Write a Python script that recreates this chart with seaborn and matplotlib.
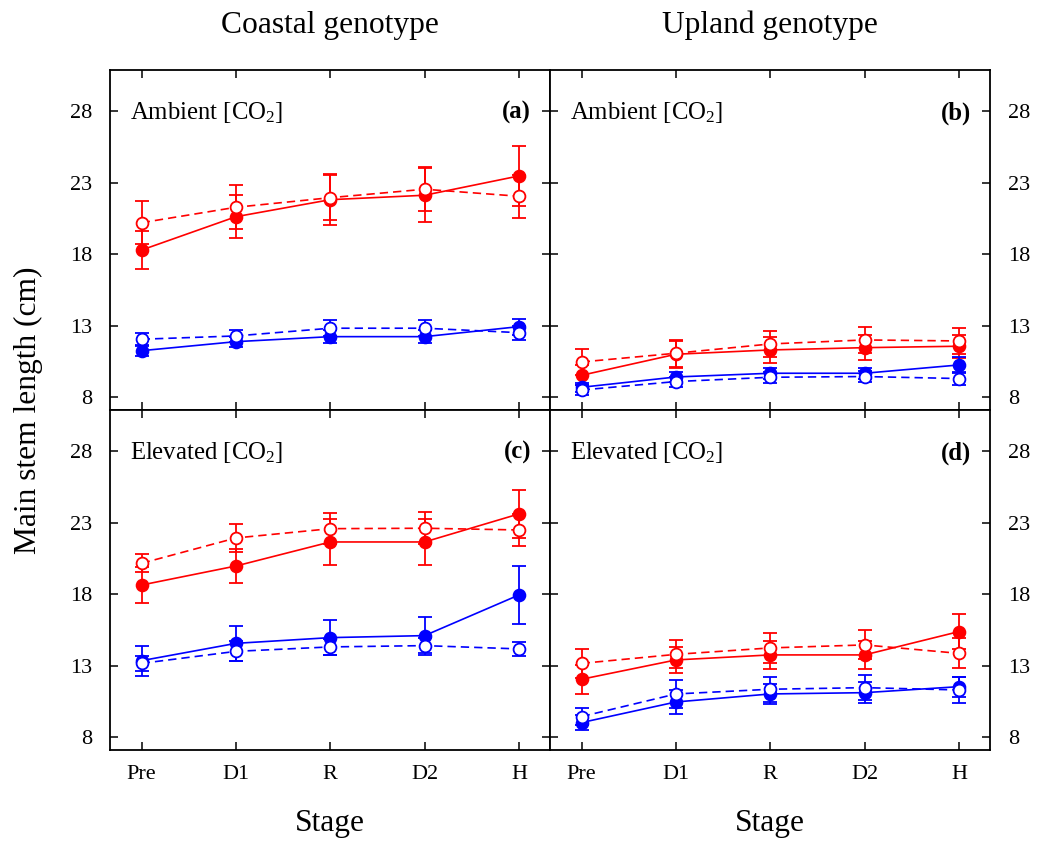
import numpy as np
import pandas as pd
import matplotlib
matplotlib.use("Agg")
import matplotlib.pyplot as plt
import seaborn as sns

stages = ["Pre", "D1", "R", "D2", "H"]
yticks = [8, 13, 18, 23, 28]

# panel (a) Coastal, ambient
a_red_solid = [18.30, 20.63, 21.82, 22.13, 23.48]
a_red_solid_err = [1.35, 1.52, 1.80, 1.89, 2.10]
a_red_dash = [20.21, 21.29, 21.96, 22.55, 22.06]
a_red_dash_err = [1.52, 1.54, 1.58, 1.53, 1.49]
a_blue_solid = [11.26, 11.89, 12.24, 12.24, 12.94]
a_blue_solid_err = [0.35, 0.35, 0.47, 0.47, 0.56]
a_blue_dash = [12.06, 12.29, 12.83, 12.83, 12.52]
a_blue_dash_err = [0.42, 0.44, 0.54, 0.54, 0.50]

# panel (b) Upland, ambient
b_red_solid = [9.54, 11.01, 11.31, 11.47, 11.57]
b_red_solid_err = [0.70, 0.93, 0.93, 0.87, 0.80]
b_red_dash = [10.47, 11.08, 11.73, 12.01, 11.94]
b_red_dash_err = [0.93, 0.93, 0.93, 0.90, 0.93]
b_blue_solid = [8.70, 9.42, 9.68, 9.68, 10.26]
b_blue_solid_err = [0.33, 0.35, 0.37, 0.37, 0.58]
b_blue_dash = [8.51, 9.10, 9.40, 9.45, 9.31]
b_blue_dash_err = [0.33, 0.35, 0.37, 0.37, 0.47]

# panel (c) Coastal, elevated
c_red_solid = [18.65, 19.98, 21.66, 21.66, 23.62]
c_red_solid_err = [1.24, 1.22, 1.61, 1.61, 1.68]
c_red_dash = [20.17, 21.94, 22.59, 22.62, 22.50]
c_red_dash_err = [0.63, 1.00, 1.07, 1.12, 1.12]
c_blue_solid = [13.36, 14.57, 14.97, 15.11, 17.95]
c_blue_solid_err = [1.05, 1.24, 1.24, 1.33, 2.00]
c_blue_dash = [13.17, 14.01, 14.32, 14.41, 14.18]
c_blue_dash_err = [0.51, 0.70, 0.56, 0.54, 0.50]

# panel (d) Upland, elevated
d_red_solid = [12.06, 13.41, 13.76, 13.76, 15.39]
d_red_solid_err = [1.00, 0.93, 0.98, 1.00, 1.24]
d_red_dash = [13.17, 13.80, 14.25, 14.46, 13.87]
d_red_dash_err = [1.03, 0.97, 1.05, 1.02, 1.05]
d_blue_solid = [9.03, 10.47, 11.03, 11.12, 11.54]
d_blue_solid_err = [0.54, 0.84, 0.70, 0.72, 0.70]
d_blue_dash = [9.45, 11.03, 11.36, 11.47, 11.31]
d_blue_dash_err = [0.60, 0.97, 0.87, 0.87, 0.93]

panels = {
    "a": [(a_red_solid, a_red_solid_err, "red", True), (a_red_dash, a_red_dash_err, "red", False),
          (a_blue_solid, a_blue_solid_err, "blue", True), (a_blue_dash, a_blue_dash_err, "blue", False)],
    "b": [(b_red_solid, b_red_solid_err, "red", True), (b_red_dash, b_red_dash_err, "red", False),
          (b_blue_solid, b_blue_solid_err, "blue", True), (b_blue_dash, b_blue_dash_err, "blue", False)],
    "c": [(c_red_solid, c_red_solid_err, "red", True), (c_red_dash, c_red_dash_err, "red", False),
          (c_blue_solid, c_blue_solid_err, "blue", True), (c_blue_dash, c_blue_dash_err, "blue", False)],
    "d": [(d_red_solid, d_red_solid_err, "red", True), (d_red_dash, d_red_dash_err, "red", False),
          (d_blue_solid, d_blue_solid_err, "blue", True), (d_blue_dash, d_blue_dash_err, "blue", False)],
}
cond_labels = {"a": "Ambient [CO$_2$]", "b": "Ambient [CO$_2$]",
               "c": "Elevated [CO$_2$]", "d": "Elevated [CO$_2$]"}

sns.set_theme(style="ticks")
plt.rcParams["font.family"] = ["Liberation Serif", "DejaVu Serif"]
plt.rcParams["mathtext.fontset"] = "custom"
plt.rcParams["mathtext.rm"] = "Liberation Serif"
plt.rcParams["mathtext.it"] = "Liberation Serif"
plt.rcParams["mathtext.bf"] = "Liberation Serif:bold"
plt.rcParams["text.color"] = "black"
plt.rcParams["axes.labelcolor"] = "black"
plt.rcParams["xtick.color"] = "black"
plt.rcParams["ytick.color"] = "black"

fig = plt.figure(figsize=(10.37, 8.41), dpi=100)
W, H = 1037, 841
def add_ax(x0, y0, x1, y1):
    return fig.add_axes([x0 / W, 1 - y1 / H, (x1 - x0) / W, (y1 - y0) / H])

axes = {
    "a": add_ax(110, 70, 550, 410),
    "b": add_ax(550, 70, 990, 410),
    "c": add_ax(110, 410, 550, 750),
    "d": add_ax(550, 410, 990, 750),
}

xpos = np.arange(len(stages))
for key, ax in axes.items():
    for vals, errs, col, solid in panels[key]:
        df = pd.DataFrame({"x": xpos, "y": vals})
        ax.errorbar(xpos, vals, yerr=errs, fmt="none", ecolor=col, elinewidth=1.3,
                    capsize=5, capthick=1.3, zorder=2)
        sns.lineplot(data=df, x="x", y="y", ax=ax, color=col, lw=1.2,
                     linestyle="-" if solid else (0, (5, 3)),
                     marker="o", markersize=8.5,
                     markerfacecolor=col if solid else "white",
                     markeredgecolor=col, markeredgewidth=1.3, zorder=3)
    ax.set_xlim(-0.336, 4.33)
    ax.set_ylim(7.11, 30.89)
    ax.set_xticks(xpos)
    ax.set_yticks(yticks)
    ax.set_xlabel("")
    ax.set_ylabel("")
    for s in ax.spines.values():
        s.set_linewidth(1.3)
        s.set_color("black")
    right = key in ("b", "d")
    bottom = key in ("c", "d")
    ax.tick_params(axis="both", direction="in", length=6, width=1.1, colors="black",
                   top=True, bottom=True, left=True, right=True, labelsize=16)
    ax.tick_params(axis="y", pad=13, labelleft=not right, labelright=right)
    ax.tick_params(axis="x", pad=11, labelbottom=bottom)
    ax.set_xticklabels(stages)
    ax.text(0.045, 0.874, cond_labels[key], transform=ax.transAxes, fontsize=17.8,
            ha="left", va="center")
    ax.text(0.957, 0.874, f"({key})", transform=ax.transAxes, fontsize=17.8,
            fontweight="bold", ha="right", va="center")
    ax.grid(False)

fig.text(330 / W, 1 - 25 / H, "Coastal genotype", fontsize=22.7, ha="center", va="center")
fig.text(770 / W, 1 - 25 / H, "Upland genotype", fontsize=22.7, ha="center", va="center")
fig.text(330 / W, 1 - 824 / H, "Stage", fontsize=22.7, ha="center", va="center")
fig.text(770 / W, 1 - 824 / H, "Stage", fontsize=22.7, ha="center", va="center")
fig.text(28 / W, 1 - 410 / H, "Main stem length (cm)", fontsize=22.7, ha="center",
         va="center", rotation=90)

fig.savefig("out.png", dpi=100)
